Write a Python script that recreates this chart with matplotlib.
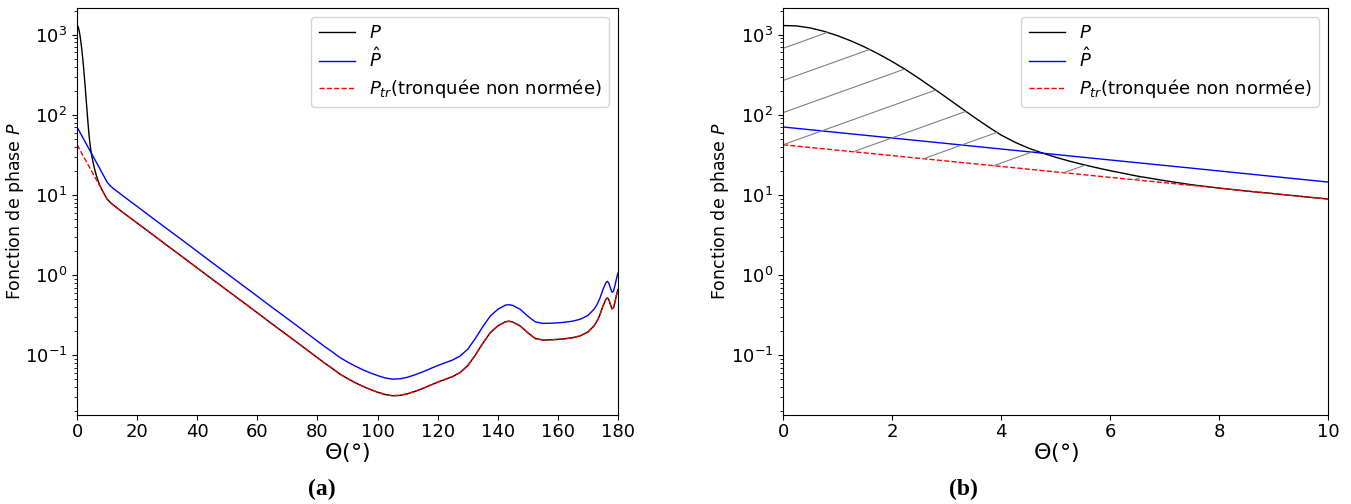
import numpy as np
import matplotlib.pyplot as plt
from matplotlib.path import Path
from matplotlib.patches import PathPatch

# phase function P near the forward peak (0-10 deg)
theta_near = [0, 0.25, 0.5, 0.75, 1.0, 1.25, 1.5, 1.75, 2.0, 2.25, 2.5, 2.75, 3.0,
              3.25, 3.5, 3.75, 4.0, 4.25, 4.5, 4.75, 5.0, 5.25, 5.5, 5.75, 6.0,
              6.5, 7.0, 7.5, 8.0, 8.5, 9.0, 9.5]
p_near = [1300, 1285, 1213, 1102, 971, 834, 700, 575, 463, 366, 283, 216, 164,
          124, 94, 72, 56, 45.7, 38.5, 33.5, 29.6, 26.5, 24.0, 21.9, 20.1,
          17.2, 15.1, 13.4, 12.2, 11.2, 10.4, 9.6]

# truncated (non normalised) phase function below the truncation angle
theta_tr_near = [0, 2, 4, 6, 8, 8.5, 9, 9.5]
p_tr_near = [42.3, 31.0, 22.7, 16.6, 12.2, 11.2, 10.4, 9.6]

# normalised truncated phase function below 10 deg
theta_hat_near = [0, 2.5, 5, 7.5]
p_hat_near = [70.5, 47.5, 32.0, 21.6]

# rest of the curves, 10-180 deg (P and P_tr are identical there)
theta_far = [10, 11, 12, 13, 15, 17.5, 20, 25, 30, 35, 40, 45, 50, 55, 60, 65, 70,
             75, 80, 82.5, 85, 87.5, 90, 92.5, 95, 97.5, 100, 102.5, 105, 107.5,
             110, 112.5, 115, 117.5, 120, 122.5, 125, 127.5, 130, 132.5, 135,
             137.5, 140, 142.5, 143.75, 145, 147.5, 150, 152.5, 155, 157.5, 160,
             162.5, 165, 167.5, 170, 172, 173, 174, 175, 176, 176.5, 177, 177.5,
             178, 178.5, 179, 179.5, 180]
p_far = [8.9, 8.13, 7.53, 7.05, 6.17, 5.25, 4.47, 3.24, 2.34, 1.70, 1.23, 0.89,
         0.645, 0.468, 0.339, 0.245, 0.178, 0.129, 0.0933, 0.0794, 0.0684, 0.0582,
         0.0513, 0.0457, 0.0412, 0.0376, 0.0347, 0.0324, 0.0313, 0.0316, 0.0331,
         0.0355, 0.0385, 0.0422, 0.0462, 0.0501, 0.0543, 0.0610, 0.0741, 0.100,
         0.141, 0.191, 0.232, 0.262, 0.266, 0.260, 0.232, 0.191, 0.162, 0.155,
         0.156, 0.158, 0.161, 0.166, 0.175, 0.195, 0.232, 0.265, 0.32, 0.41, 0.50,
         0.52, 0.49, 0.43, 0.38, 0.39, 0.46, 0.56, 0.66]
p_hat_far = [14.5, 13.1, 12.1, 11.35, 9.95, 8.45, 7.2, 5.2, 3.77, 2.74, 1.98, 1.43,
             1.04, 0.753, 0.546, 0.394, 0.287, 0.208, 0.150, 0.128, 0.110, 0.0937,
             0.0826, 0.0736, 0.0663, 0.0605, 0.0559, 0.0522, 0.0504, 0.0509, 0.0533,
             0.0572, 0.062, 0.068, 0.0744, 0.0807, 0.0874, 0.0982, 0.119, 0.161,
             0.227, 0.308, 0.374, 0.422, 0.428, 0.419, 0.374, 0.308, 0.261, 0.250,
             0.251, 0.254, 0.259, 0.267, 0.282, 0.314, 0.374, 0.427, 0.515, 0.66,
             0.805, 0.837, 0.789, 0.692, 0.612, 0.628, 0.741, 0.90, 1.06]

theta_p = theta_near + theta_far
p = p_near + p_far
theta_tr = theta_tr_near + theta_far
p_tr = p_tr_near + p_far
theta_hat = theta_hat_near + theta_far
p_hat = p_hat_near + p_hat_far

fig = plt.figure(figsize=(13.51, 5.04), dpi=100)
ax1 = fig.add_axes([0.057, 0.1766, 0.4004, 0.8075])
ax2 = fig.add_axes([0.5796, 0.1766, 0.4034, 0.8075])

for ax, xmax in [(ax1, 180), (ax2, 10)]:
    ax.plot(theta_p, p, color='black', linewidth=1.0, label='$P$')
    ax.plot(theta_hat, p_hat, color='blue', linewidth=1.0, label=r'$\hat{P}$')
    ax.plot(theta_tr, p_tr, color='red', linestyle='--', linewidth=1.0,
            label=r'$P_{tr}$(tronquée non normée)')
    ax.set_yscale('log')
    ax.set_xlim(0, xmax)
    ax.set_ylim(0.018, 2150)
    ax.set_xlabel(r'$\Theta$(°)', fontsize=16, labelpad=0)
    ax.set_ylabel('Fonction de phase $P$', fontsize=12.5)
    ax.yaxis.set_label_coords(-0.095, 0.5)
    ax.tick_params(labelsize=13)
    ax.tick_params(axis='x', pad=2)
    ax.legend(loc='upper right', fontsize=13, labelspacing=0.3)

# hatched area between P and P_tr (right panel)
t_cut = 8.0
top = [(t, v) for t, v in zip(theta_p, p) if t <= t_cut]
bot = [(t, v) for t, v in zip(theta_tr, p_tr) if t <= t_cut]
verts = np.array(top + bot[::-1] + [top[0]])
clip = PathPatch(Path(verts), transform=ax2.transData, facecolor='none',
                 edgecolor='none')
ax2.add_patch(clip)
y0 = ax2.transAxes.inverted().transform(ax2.transData.transform((0, p_tr[0])))[1]
slope = 0.48
step = 0.079
for k in range(-12, 6):
    c = y0 + k * step
    ln, = ax2.plot([0, 1], [c, c + slope], transform=ax2.transAxes,
                   color='gray', linewidth=0.8)
    ln.set_clip_path(clip)

fig.text(0.238, 0.028, '(a)', ha='center', va='center', fontsize=17,
         fontweight='bold', family='Liberation Serif')
fig.text(0.713, 0.028, '(b)', ha='center', va='center', fontsize=17,
         fontweight='bold', family='Liberation Serif')

plt.savefig('out.png', dpi=100)
